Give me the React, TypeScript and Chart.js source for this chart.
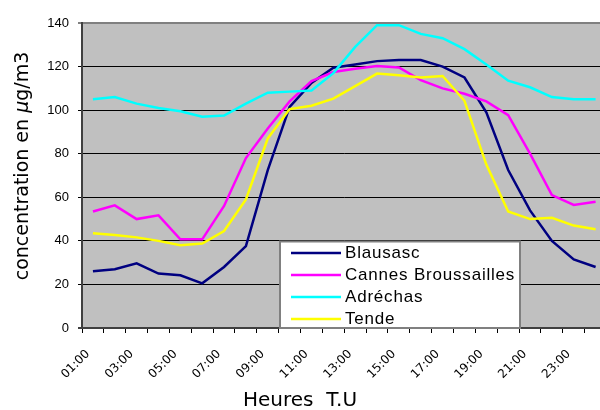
import React, { useEffect, useRef } from 'react';
import { Chart, registerables } from 'chart.js';

Chart.register(...registerables);

const hours = [
  '01:00', '02:00', '03:00', '04:00', '05:00', '06:00', '07:00', '08:00',
  '09:00', '10:00', '11:00', '12:00', '13:00', '14:00', '15:00', '16:00',
  '17:00', '18:00', '19:00', '20:00', '21:00', '22:00', '23:00', '24:00',
];

const seriesNames = ['Blausasc', 'Cannes Broussailles', 'Adréchas', 'Tende'];
const seriesColors = ['#000080', '#FF00FF', '#00FFFF', '#FFFF00'];

const blausasc = [26, 27, 29.7, 25, 24.2, 20.5, 28, 37.6, 72.5, 101.5, 112.5, 119.5, 121, 122.5, 123, 123, 120, 115, 99, 72.5, 54, 40, 31.5, 28];
const cannes = [53.5, 56.3, 50, 51.7, 40.7, 40.7, 56, 78, 91.6, 104, 113.3, 117.5, 119, 120.3, 119.6, 113.8, 110, 107.5, 104, 97.7, 80, 61, 56.5, 58];
const adrechas = [105, 106, 103, 101, 99.5, 97, 97.5, 103, 108, 108.5, 109, 117, 129, 139, 139, 135, 133, 128, 121, 113.5, 110.5, 106, 105, 105];
const tende = [43.5, 42.7, 41.6, 40, 38, 38.8, 44.5, 59, 87, 100.5, 102, 105.3, 111, 116.8, 116, 115, 115.7, 104.3, 75, 53.5, 50, 50.6, 47, 45.3];

const yMin = 0;
const yMax = 140;
const yStep = 20;

const yTitleParts = [
  { text: 'concentration en ', italic: false },
  { text: 'µ', italic: true },
  { text: 'g/m3', italic: false },
];
const xTitle = 'Heures  T.U';

export default function App() {
  const ref = useRef<HTMLCanvasElement>(null);

  useEffect(() => {
    document.body.style.margin = '0';
    const canvas = ref.current!;
    const seriesValues = [blausasc, cannes, adrechas, tende];

    const bgPlugin = {
      id: 'plotBg',
      beforeDraw(chart: any) {
        const { ctx, chartArea: a } = chart;
        ctx.save();
        ctx.fillStyle = '#C0C0C0';
        ctx.fillRect(a.left, a.top, a.right - a.left, a.bottom - a.top);
        ctx.restore();
      },
    };

    const overlayPlugin = {
      id: 'overlay',
      afterDraw(chart: any) {
        const { ctx, chartArea: a } = chart;
        ctx.save();
        // legend box
        const lx = a.left + 198;
        const ly = a.top + 218.5;
        const lw = 240;
        const lh = a.bottom - ly;
        ctx.fillStyle = '#FFFFFF';
        ctx.fillRect(lx, ly, lw, lh);
        ctx.strokeStyle = '#808080';
        ctx.lineWidth = 2;
        ctx.strokeRect(lx, ly, lw, lh);
        ctx.font = '17px "Liberation Sans", Arial, sans-serif';
        (ctx as any).letterSpacing = '0.8px';
        ctx.textBaseline = 'middle';
        ctx.textAlign = 'left';
        seriesNames.forEach((name, i) => {
          const y = ly + 11.5 + i * 22;
          ctx.strokeStyle = seriesColors[i];
          ctx.lineWidth = 2.5;
          ctx.beginPath();
          ctx.moveTo(lx + 11, y);
          ctx.lineTo(lx + 61, y);
          ctx.stroke();
          ctx.fillStyle = '#000';
          ctx.fillText(name, lx + 65, y);
        });
        (ctx as any).letterSpacing = '0px';

        // y title
        ctx.save();
        ctx.translate(23, 166);
        ctx.rotate(-Math.PI / 2);
        const fontN = '19px "DejaVu Sans", sans-serif';
        const fontI = 'italic 19px "DejaVu Sans", sans-serif';
        let total = 0;
        const widths = yTitleParts.map((p) => {
          ctx.font = p.italic ? fontI : fontN;
          const w = ctx.measureText(p.text).width;
          total += w;
          return w;
        });
        let x = -total / 2;
        ctx.fillStyle = '#000';
        ctx.textAlign = 'left';
        ctx.textBaseline = 'middle';
        yTitleParts.forEach((p, i) => {
          ctx.font = p.italic ? fontI : fontN;
          ctx.fillText(p.text, x, 0);
          x += widths[i];
        });
        ctx.restore();

        // x title
        ctx.font = '20px "DejaVu Sans", sans-serif';
        ctx.fillStyle = '#000';
        ctx.textAlign = 'center';
        ctx.textBaseline = 'middle';
        ctx.fillText(xTitle, 300, 401);
        ctx.restore();
      },
    };

    const chart = new Chart(canvas, {
      type: 'line',
      data: {
        labels: hours,
        datasets: seriesNames.map((name, i) => ({
          label: name,
          data: seriesValues[i],
          borderColor: seriesColors[i],
          backgroundColor: seriesColors[i],
          borderWidth: 2.5,
          pointRadius: 0,
          tension: 0,
          fill: false,
          order: seriesNames.length - i,
        })),
      },
      options: {
        responsive: false,
        animation: false,
        devicePixelRatio: 1,
        layout: { padding: { top: 23, right: 10, left: 0, bottom: 0 } },
        plugins: {
          legend: { display: false },
          title: { display: false },
          tooltip: { enabled: false },
        },
        scales: {
          x: {
            type: 'category',
            offset: true,
            grid: {
              offset: true,
              drawOnChartArea: false,
              drawTicks: true,
              tickLength: 5,
              color: '#000',
            },
            border: { display: true, color: '#404040', width: 2 },
            ticks: {
              autoSkip: false,
              maxRotation: 45,
              minRotation: 45,
              padding: 14,
              labelOffset: -5,
              color: '#000',
              font: { family: '"DejaVu Sans", sans-serif', size: 12 },
              callback: (_v: any, i: number) => (i % 2 === 0 ? hours[i] : ''),
            },
            afterFit: (s: any) => {
              s.height = 82;
            },
          },
          y: {
            min: yMin,
            max: yMax,
            grid: {
              drawTicks: true,
              tickLength: 4,
              color: (c: any) => (c.tick && c.tick.value === yMax ? '#808080' : c.tick && c.tick.value === yMin ? '#404040' : '#000'),
              lineWidth: (c: any) => (c.tick && (c.tick.value === yMax || c.tick.value === yMin) ? 2 : 1),
            },
            border: { display: true, color: '#404040', width: 2 },
            ticks: {
              stepSize: yStep,
              padding: 9,
              color: '#000',
              font: { family: '"Liberation Sans", Arial, sans-serif', size: 13 },
            },
            afterFit: (s: any) => {
              s.width = 82;
            },
          },
        },
      },
      plugins: [bgPlugin, overlayPlugin],
    });

    return () => chart.destroy();
  }, []);

  return (
    <div style={{ position: 'fixed', left: 0, top: 0, width: 600, height: 410, overflow: 'hidden', background: '#fff' }}>
      <canvas ref={ref} width={620} height={410} style={{ display: 'block' }} />
    </div>
  );
}
